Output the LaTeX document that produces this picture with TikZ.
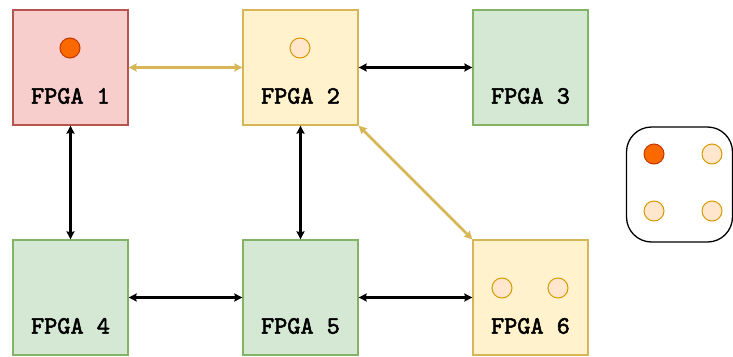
\documentclass[tikz,border=0pt]{standalone}
\usepackage{fontspec}
\newfontfamily\lblfont{lmmono10-regular}[Extension=.otf, FakeBold=2.2]
\usetikzlibrary{arrows.meta,positioning}
\definecolor{redfill}{HTML}{F8CECC}
\definecolor{redline}{HTML}{B85450}
\definecolor{yelfill}{HTML}{FFF2CC}
\definecolor{yelline}{HTML}{D6B656}
\definecolor{grnfill}{HTML}{D5E8D4}
\definecolor{grnline}{HTML}{82B366}
\definecolor{orfill}{HTML}{FA6800}
\definecolor{orline}{HTML}{C73500}
\definecolor{ltfill}{HTML}{FFE6CC}
\definecolor{ltline}{HTML}{D79B00}
\tikzset{
  fpga/.style={draw, rectangle, minimum width=115pt, minimum height=115pt, line width=1.3pt, inner sep=0pt},
  redbox/.style={fpga, fill=redfill, draw=redline},
  yelbox/.style={fpga, fill=yelfill, draw=yelline},
  grnbox/.style={fpga, fill=grnfill, draw=grnline},
  lbl/.style={font=\lblfont\fontsize{25}{25}\selectfont, inner sep=0pt},
  dotA/.style={circle, minimum size=20pt, inner sep=0pt, fill=orfill, draw=orline, line width=1pt},
  dotB/.style={circle, minimum size=20pt, inner sep=0pt, fill=ltfill, draw=ltline, line width=1pt},
  link/.style={line width=2.6pt, {Stealth[length=8pt,width=8pt,inset=1pt]}-{Stealth[length=8pt,width=8pt,inset=1pt]}},
  blk/.style={link, black},
  gld/.style={link, yelline},
}
\begin{document}
\begin{tikzpicture}[x=1pt,y=-1pt]
\useasboundingbox (0,0) rectangle (733,356);
\node[redbox] (b1) at (70.5,67.5) {};
\node[yelbox] (b2) at (300.5,67.5) {};
\node[grnbox] (b3) at (530.5,67.5) {};
\node[grnbox] (b4) at (70.5,297.5) {};
\node[grnbox] (b5) at (300.5,297.5) {};
\node[yelbox] (b6) at (530.5,297.5) {};
\node[lbl] (t1) at (70.5,96) {FPGA 1};
\node[lbl] (t2) at (300.5,96) {FPGA 2};
\node[lbl] (t3) at (530.5,96) {FPGA 3};
\node[lbl] (t4) at (70.5,326) {FPGA 4};
\node[lbl] (t5) at (300.5,326) {FPGA 5};
\node[lbl] (t6) at (530.5,326) {FPGA 6};
\node[dotA] (d1) at (70,48) {};
\node[dotB] (d2) at (300,48) {};
\node[dotB] (d6a) at (502,288) {};
\node[dotB] (d6b) at (558,288) {};
\draw[gld] (b1.east) -- (b2.west);
\draw[blk] (b2.east) -- (b3.west);
\draw[blk] (b1.south) -- (b4.north);
\draw[blk] (b2.south) -- (b5.north);
\draw[blk] (b4.east) -- (b5.west);
\draw[blk] (b5.east) -- (b6.west);
\draw[gld] (b2.south east) -- (b6.north west);
\node[draw, line width=1.3pt, rounded corners=25pt, minimum width=106pt, minimum height=115pt] (leg) at (679.5,184.5) {};
\node[dotA] (l1) at (654,154) {};
\node[dotB] (l2) at (712,154) {};
\node[dotB] (l3) at (654,211) {};
\node[dotB] (l4) at (712,211) {};
\end{tikzpicture}
\end{document}
